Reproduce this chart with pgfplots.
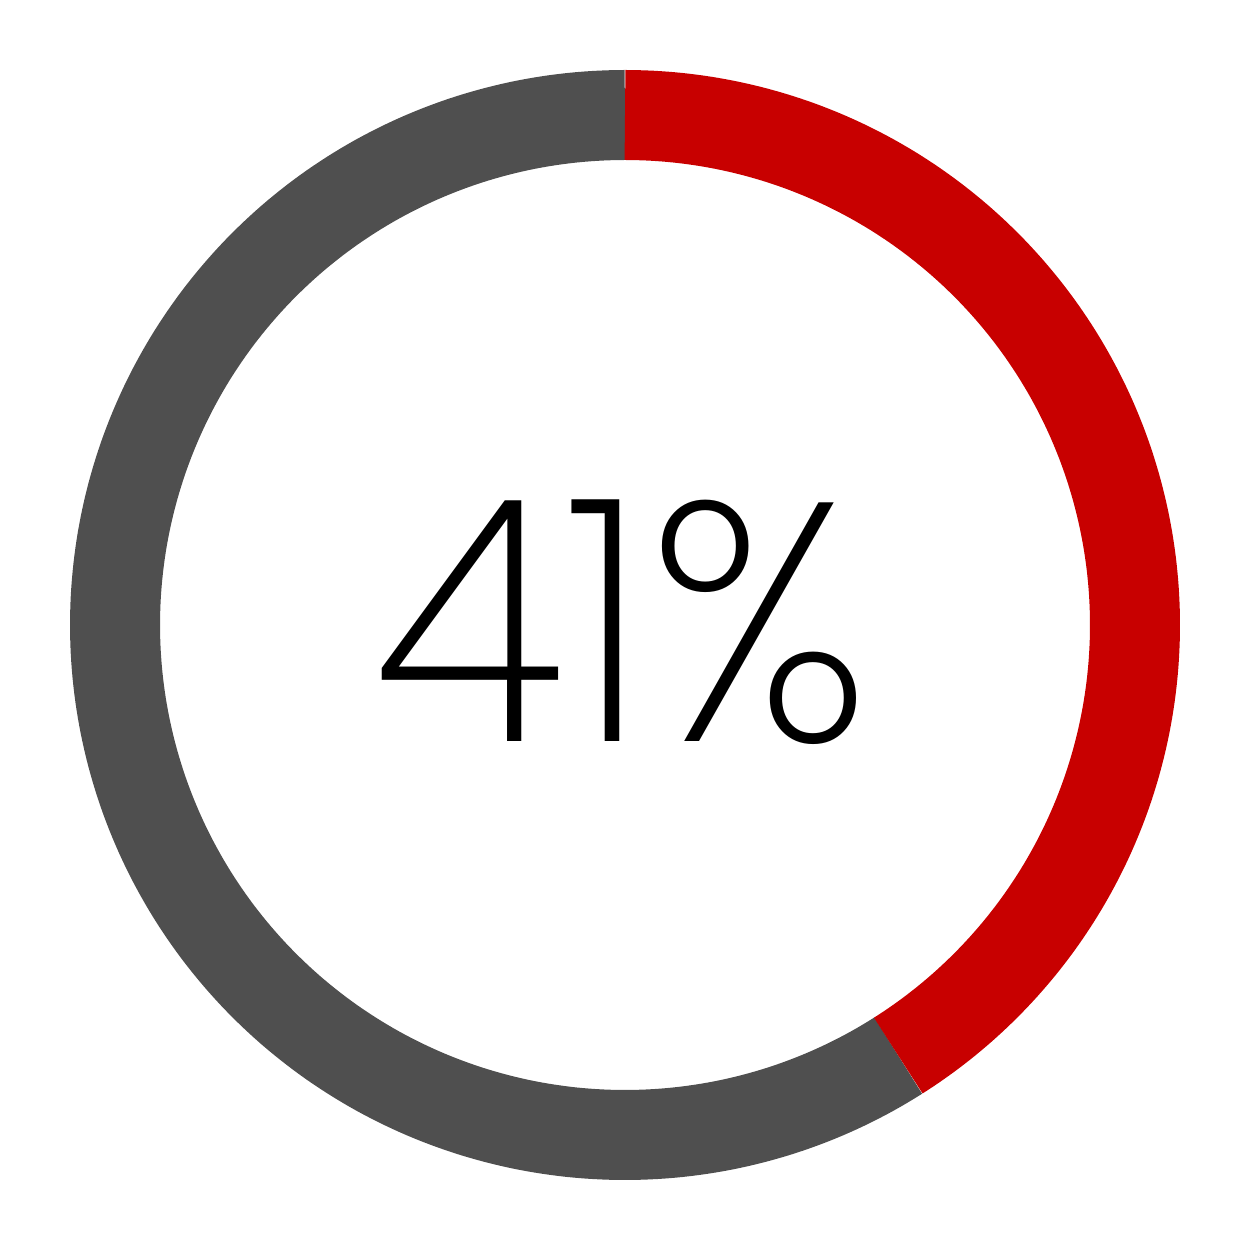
\documentclass[border=0pt]{standalone}
\usepackage{pgfplots}
\pgfplotsset{compat=1.18}
\usepackage{fontspec}
\newfontfamily\pl{Poppins ExtraLight}
\definecolor{myred}{HTML}{C80000}
\definecolor{mygray}{HTML}{4F4F4F}
\begin{document}
\begin{tikzpicture}
\def\valA{41}
\def\valB{59}
\begin{axis}[
  width=375pt, height=375pt, scale only axis,
  xmin=0, xmax=1250, ymin=0, ymax=1250,
  hide axis, clip=false,
]
\path (axis cs:0,0) -- (axis cs:1250,1250);
\addplot[mygray, line width=27pt, line cap=butt, domain=\valA:100, samples=250, variable=\t]
  ({625+510*cos(90-3.6*\t)},{625+510*sin(90-3.6*\t)});
\addplot[myred, line width=27pt, line cap=butt, domain=0:\valA, samples=200, variable=\t]
  ({625+510*cos(90-3.6*\t)},{625+510*sin(90-3.6*\t)});
\node[anchor=base, inner sep=0pt] at (axis cs:622,508) {\scalebox{0.95}[1]{\pl\fontsize{102}{102}\selectfont 41\%}};
\end{axis}
\end{tikzpicture}
\end{document}
